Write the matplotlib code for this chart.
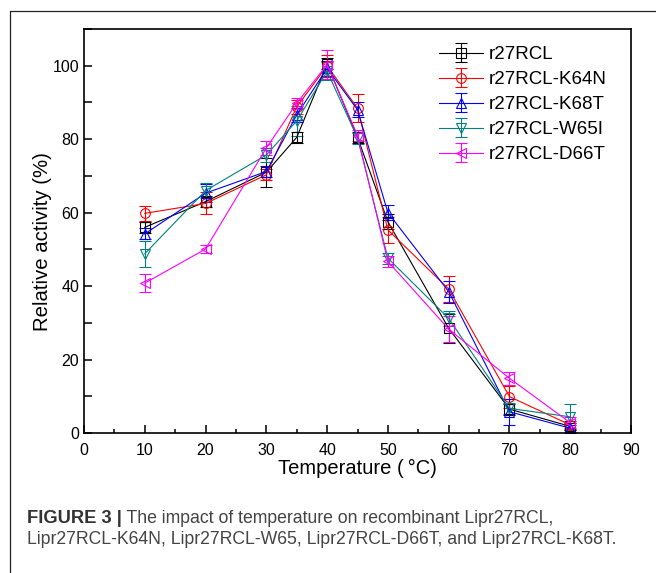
import matplotlib
matplotlib.use("Agg")
import matplotlib.pyplot as plt
from matplotlib.lines import Line2D
from matplotlib.ticker import MultipleLocator

plt.rcParams["font.family"] = ["Liberation Sans", "DejaVu Sans"]

temps = [10, 20, 30, 35, 40, 45, 50, 60, 70, 80]

r27rcl = [56.0, 63.0, 71.0, 80.5, 100.5, 80.5, 57.5, 28.5, 6.5, 1.8]
r27rcl_err = [1.5, 1.5, 4.0, 1.5, 1.5, 1.5, 2.0, 4.0, 1.5, 1.0]
k64n = [59.8, 62.5, 70.3, 88.8, 100.0, 88.4, 55.3, 39.2, 9.9, 2.2]
k64n_err = [2.0, 3.0, 1.5, 2.0, 3.0, 3.8, 3.6, 3.5, 3.0, 1.0]
k68t = [54.2, 65.3, 71.2, 86.6, 99.3, 88.0, 60.0, 38.5, 5.8, 1.3]
k68t_err = [1.5, 2.5, 1.5, 2.0, 2.0, 2.0, 2.0, 3.0, 3.5, 1.0]
w65i = [48.8, 66.0, 75.7, 85.0, 98.5, 80.3, 47.6, 31.2, 6.7, 4.4]
w65i_err = [3.6, 2.0, 2.0, 4.0, 2.5, 1.5, 1.5, 2.0, 1.5, 3.5]
d66t = [40.8, 50.1, 77.6, 89.8, 100.3, 81.0, 46.7, 28.3, 14.9, 2.8]
d66t_err = [2.5, 1.0, 2.0, 1.5, 4.0, 1.5, 1.5, 3.5, 1.8, 1.5]

series_names = ["r27RCL", "r27RCL-K64N", "r27RCL-K68T", "r27RCL-W65I", "r27RCL-D66T"]
series_vals = [r27rcl, k64n, k68t, w65i, d66t]
series_errs = [r27rcl_err, k64n_err, k68t_err, w65i_err, d66t_err]
colors = ["#000000", "#ff0000", "#0000ff", "#008080", "#ff00ff"]
markers = ["s", "o", "^", "v", "<"]

caption_head = "FIGURE 3 |"
caption_line1 = " The impact of temperature on recombinant Lipr27RCL,"
caption_line2 = "Lipr27RCL-K64N, Lipr27RCL-W65, Lipr27RCL-D66T, and Lipr27RCL-K68T."

fig = plt.figure(figsize=(6.56, 5.73), dpi=100)
ax = fig.add_axes([0.128, 0.2443, 0.834, 0.7051])

for name, vals, errs, c, m in zip(series_names, series_vals, series_errs, colors, markers):
    ax.errorbar(temps, vals, yerr=errs, color=c, marker=m, ms=7, mfc="none",
                mec=c, mew=0.8, lw=0.8, elinewidth=0.8, capsize=4.5, capthick=0.8,
                label=name)

ax.set_xlim(0, 90)
ax.set_ylim(0, 110)
ax.xaxis.set_major_locator(MultipleLocator(10))
ax.xaxis.set_minor_locator(MultipleLocator(5))
ax.yaxis.set_major_locator(MultipleLocator(20))
ax.yaxis.set_minor_locator(MultipleLocator(10))
ax.tick_params(which="both", direction="in", top=False, right=False, labelsize=11.5, width=1.1)
ax.tick_params(axis="x", which="major", length=6, pad=7)
ax.tick_params(axis="x", which="minor", length=3)
ax.tick_params(axis="y", which="both", length=6)
for s in ax.spines.values():
    s.set_linewidth(1.2)

ax.set_xlabel("Temperature (\u2009°C)", fontsize=14.5, labelpad=1)
ax.set_ylabel("Relative activity (%)", fontsize=14.7)
ax.yaxis.set_label_coords(-0.058, 0.473)

ax.legend(loc="upper left", bbox_to_anchor=(439 / 656, (573 - 46) / 573),
          bbox_transform=fig.transFigure, frameon=False, fontsize=13.5,
          borderpad=0, borderaxespad=0, handlelength=2.35, handletextpad=0.3,
          labelspacing=0.42)

# outer frame (cropped on right and bottom)
fig.add_artist(Line2D([10 / 656, 10 / 656, 1.0], [0.0, 1 - 11 / 573, 1 - 11 / 573],
                      transform=fig.transFigure, color="#222222", lw=0.9))

head = fig.text(27 / 656, 1 - 527 / 573, caption_head, fontsize=13.2, fontweight="bold",
                color="#333333", va="bottom")
ax.annotate(caption_line1, xy=(1, 0), xycoords=head, va="bottom", ha="left",
            fontsize=12.7, color="#444444", annotation_clip=False)
fig.text(27 / 656, 1 - 548 / 573, caption_line2, fontsize=12.7, color="#444444", va="bottom")

fig.savefig("out.png", dpi=100)
plt.close(fig)
